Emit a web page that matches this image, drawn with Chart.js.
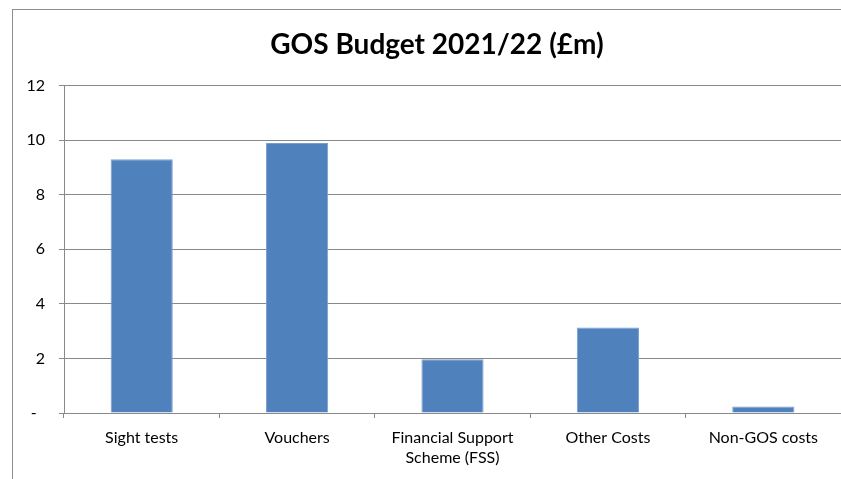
<!DOCTYPE html>
<html>
<head>
<meta charset="utf-8">
<script src="https://cdn.jsdelivr.net/npm/chart.js@4.4.0/dist/chart.umd.min.js"></script>
<style>
  html, body { margin: 0; padding: 0; background: #fff; overflow: hidden; }
  #frame {
    position: absolute; left: 12px; top: 9px;
    width: 848px; height: 480px;
    border-left: 1px solid #8e8e8e; border-top: 1px solid #8e8e8e;
  }
  #chart { display: block; }
</style>
</head>
<body>
<div id="frame"><canvas id="chart" width="828" height="470"></canvas></div>
<script>
const categories = ['Sight tests', 'Vouchers', ['Financial Support', 'Scheme (FSS)'], 'Other Costs', 'Non-GOS costs'];
const budget = [9.3, 9.9, 1.97, 3.13, 0.24];
const yTicks = [0, 2, 4, 6, 8, 10, 12];

const FONT = 'Lato, "Liberation Sans", sans-serif';
const GRID = '#898989';

// the frame runs on past the right edge, so centre the title on the whole frame
const titleShift = {
  id: 'titleShift',
  afterLayout(chart) {
    const t = chart.titleBlock;
    if (t) { t.left += 10; t.right += 10; }
  }
};

const ctx = document.getElementById('chart');
new Chart(ctx, {
  type: 'bar',
  data: {
    labels: categories,
    datasets: [{
      label: 'GOS Budget',
      data: budget,
      backgroundColor: '#4f81bd',
      borderColor: '#7a9fcd',
      borderWidth: 1,
      barPercentage: 0.4,
      categoryPercentage: 1.0
    }]
  },
  options: {
    responsive: false,
    animation: false,
    layout: { padding: 0 },
    plugins: {
      legend: { display: false },
      tooltip: { enabled: false },
      title: {
        display: true,
        text: 'GOS Budget 2021/22 (£m)',
        color: '#000',
        font: { family: FONT, size: 28, weight: 'bold', lineHeight: 1.2 },
        padding: { top: 18, bottom: 24 }
      }
    },
    scales: {
      x: {
        offset: true,
        grid: { drawOnChartArea: false, drawTicks: true, tickLength: 5, offset: true, color: GRID },
        border: { color: GRID },
        ticks: {
          color: '#000', padding: 9, maxRotation: 0, autoSkip: false,
          font: { family: FONT, size: 16, lineHeight: 1.3 }
        },
        afterFit: s => { s.height = 67; }
      },
      y: {
        min: 0, max: 12,
        afterBuildTicks: s => { s.ticks = yTicks.map(v => ({ value: v })); },
        grid: { color: GRID, tickLength: 5 },
        border: { color: GRID },
        ticks: {
          color: '#000', padding: 14,
          font: { family: FONT, size: 16 },
          callback: v => v === 0 ? '-  ' : String(v)
        },
        afterFit: s => { s.width = 51; }
      }
    }
  },
  plugins: [titleShift]
});
</script>
</body>
</html>
